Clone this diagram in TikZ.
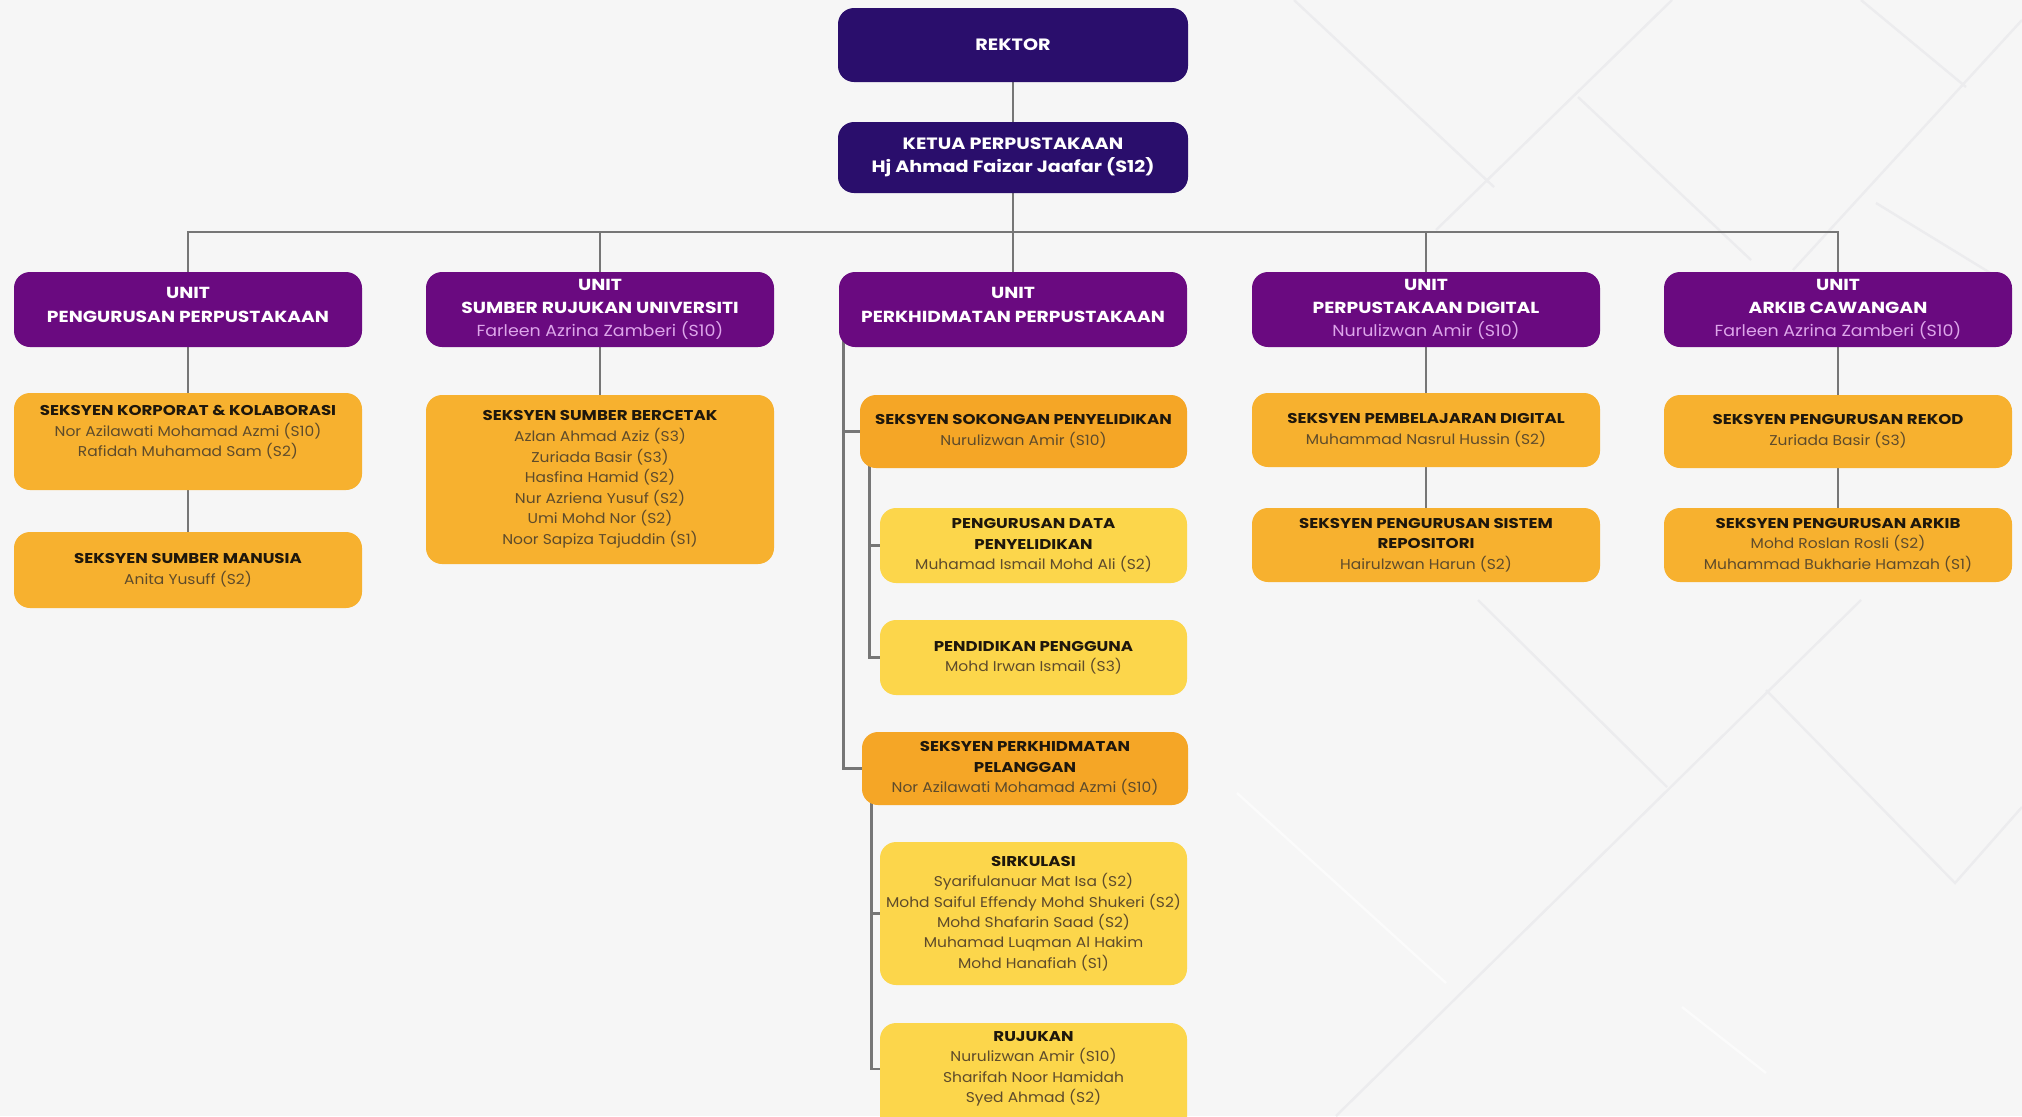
\documentclass[tikz,border=0pt]{standalone}
\usepackage{fontspec}
\setmainfont{Poppins}[FakeStretch=1.09, BoldFeatures={FakeStretch=1.17}]
\usetikzlibrary{calc}
\definecolor{bgc}{HTML}{F6F6F6}
\definecolor{bglinec}{HTML}{ECECEE}
\definecolor{navyc}{HTML}{2A0E6C}
\definecolor{unitc}{HTML}{6A0A80}
\definecolor{unitnamec}{HTML}{DDA6EA}
\definecolor{secc}{HTML}{F7B12F}
\definecolor{secdarkc}{HTML}{F5A626}
\definecolor{subc}{HTML}{FCD64B}
\definecolor{titlec}{HTML}{1E170C}
\definecolor{namec}{HTML}{5E4B2B}
\definecolor{linkc}{HTML}{767676}
\pgfdeclarelayer{bglayer}
\pgfdeclarelayer{linelayer}
\pgfsetlayers{bglayer,linelayer,main}
\newcommand\unitperson[1]{{\mdseries\color{unitnamec}#1}}
\newcommand\persona[1]{{\color{namec}#1}}
\tikzset{
  basebox/.style={rounded corners=8pt, align=center, inner sep=0pt},
  topbox/.style={basebox, fill=navyc, text=white, minimum width=175pt,
    font=\bfseries\fontsize{8.2}{11.8}\selectfont},
  unitbox/.style={basebox, fill=unitc, text=white, minimum width=174pt,
    minimum height=37.5pt, font=\bfseries\fontsize{8}{11.6}\selectfont},
  secbox/.style={basebox, fill=secc, text=titlec, minimum width=174pt,
    font=\fontsize{7.1}{10.3}\selectfont},
  secdark/.style={secbox, fill=secdarkc},
  subbox/.style={basebox, fill=subc, text=titlec, minimum width=153.5pt,
    font=\fontsize{7.1}{10.2}\selectfont},
  link/.style={draw=linkc, line width=1.3pt},
  bgline/.style={draw=bglinec, line width=1.2pt}
}
\begin{document}
\begin{tikzpicture}[x=0.5pt, y=-0.5pt]
\useasboundingbox (0,0) rectangle (2022,1116);
\begin{pgfonlayer}{bglayer}
  \fill[bgc] (0,0) rectangle (2022,1116);
  \draw[bgline] (1294,0) -- (1494,187);
  \draw[bgline] (1672,0) -- (1436,230);
  \draw[bgline] (1578,97) -- (1751,260);
  \draw[bgline] (1861,0) -- (1966,87);
  \draw[bgline] (2022,20) -- (1793,270);
  \draw[bgline] (1876,203) -- (2010,285);
  \draw[bgline] (1478,600) -- (1667,787);
  \draw[bgline] (1861,600) -- (1336,1116);
  \draw[bgline] (1766,690) -- (1955,883) -- (2022,807);
  \draw[bgline, draw=white!60!bgc] (1237,793) -- (1446,983);
  \draw[bgline, draw=white!60!bgc] (1682,1007) -- (1766,1073);
\end{pgfonlayer}

% top
\node[topbox, minimum height=37pt] (rektor) at (1013,45) {REKTOR};
\node[topbox, minimum height=35.5pt] (ketua) at (1013,157.5)
  {KETUA PERPUSTAKAAN\\Hj Ahmad Faizar Jaafar (S12)};

% units
\node[unitbox] (u1) at (188,309.5) {UNIT\\PENGURUSAN PERPUSTAKAAN\\[-7pt]~};
\node[unitbox] (u2) at (600,309.5) {UNIT\\SUMBER RUJUKAN UNIVERSITI\\\unitperson{Farleen Azrina Zamberi (S10)}};
\node[unitbox] (u3) at (1013,309.5) {UNIT\\PERKHIDMATAN PERPUSTAKAAN\\[-7pt]~};
\node[unitbox] (u4) at (1426,309.5) {UNIT\\PERPUSTAKAAN DIGITAL\\\unitperson{Nurulizwan Amir (S10)}};
\node[unitbox] (u5) at (1838,309.5) {UNIT\\ARKIB CAWANGAN\\\unitperson{Farleen Azrina Zamberi (S10)}};

% unit 1
\node[secbox, minimum height=48.5pt] (korporat) at (188,441.5)
  {\textbf{SEKSYEN KORPORAT \& KOLABORASI}\\\persona{Nor Azilawati Mohamad Azmi (S10)}\\\persona{Rafidah Muhamad Sam (S2)}\\~};
\node[secbox, minimum height=38pt] (manusia) at (188,570)
  {\textbf{SEKSYEN SUMBER MANUSIA}\\\persona{Anita Yusuff (S2)}};

% unit 2
\node[secbox, minimum height=84.5pt] (bercetak) at (600,479.5)
  {\textbf{SEKSYEN SUMBER BERCETAK}\\\persona{Azlan Ahmad Aziz (S3)}\\\persona{Zuriada Basir (S3)}\\\persona{Hasfina Hamid (S2)}\\\persona{Nur Azriena Yusuf (S2)}\\\persona{Umi Mohd Nor (S2)}\\\persona{Noor Sapiza Tajuddin (S1)}};

% unit 3
\node[secdark, minimum width=163.5pt, minimum height=36.5pt] (sokongan) at (1023.5,431.5)
  {\textbf{SEKSYEN SOKONGAN PENYELIDIKAN}\\\persona{Nurulizwan Amir (S10)}};
\node[subbox, minimum height=37.5pt] (data) at (1033.5,545.5)
  {\textbf{PENGURUSAN DATA}\\\textbf{PENYELIDIKAN}\\\persona{Muhamad Ismail Mohd Ali (S2)}};
\node[subbox, minimum height=37.5pt] (pendidikan) at (1033.5,657.5)
  {\textbf{PENDIDIKAN PENGGUNA}\\\persona{Mohd Irwan Ismail (S3)}};
\node[secdark, minimum width=163pt, minimum height=36.5pt] (pelanggan) at (1025,768.5)
  {\textbf{SEKSYEN PERKHIDMATAN}\\\textbf{PELANGGAN}\\\persona{Nor Azilawati Mohamad Azmi (S10)}};
\node[subbox, minimum height=71.5pt] (sirkulasi) at (1033.5,913.5)
  {\textbf{SIRKULASI}\\\persona{Syarifulanuar Mat Isa (S2)}\\\persona{Mohd Saiful Effendy Mohd Shukeri (S2)}\\\persona{Mohd Shafarin Saad (S2)}\\\persona{Muhamad Luqman Al Hakim}\\\persona{Mohd Hanafiah (S1)}};
\node[subbox, minimum height=60pt] (rujukan) at (1033.5,1083) {};
\node[align=center, inner sep=0pt, text=titlec, font=\fontsize{7.1}{10.2}\selectfont] (rujukantext) at (1033.5,1069)
  {\textbf{RUJUKAN}\\\persona{Nurulizwan Amir (S10)}\\\persona{Sharifah Noor Hamidah}\\\persona{Syed Ahmad (S2)}};

% unit 4
\node[secbox, minimum height=37pt] (pembelajaran) at (1426,430)
  {\textbf{SEKSYEN PEMBELAJARAN DIGITAL}\\\persona{Muhammad Nasrul Hussin (S2)}};
\node[secbox, minimum height=37pt] (repositori) at (1426,545)
  {\textbf{SEKSYEN PENGURUSAN SISTEM}\\\textbf{REPOSITORI}\\\persona{Hairulzwan Harun (S2)}};

% unit 5
\node[secbox, minimum height=36.5pt] (rekod) at (1838,431.5)
  {\textbf{SEKSYEN PENGURUSAN REKOD}\\\persona{Zuriada Basir (S3)}};
\node[secbox, minimum height=37pt] (arkib) at (1838,545)
  {\textbf{SEKSYEN PENGURUSAN ARKIB}\\\persona{Mohd Roslan Rosli (S2)}\\\persona{Muhammad Bukharie Hamzah (S1)}};

% connectors
\begin{pgfonlayer}{linelayer}
  \coordinate (bus) at (1013,232);
  \draw[link] (rektor.center) -- (ketua.center);
  \draw[link] (ketua.center) -- (u3.center);
  \draw[link] (u1.center) -- (u1.center |- bus) -- (u5.center |- bus) -- (u5.center);
  \draw[link] (u2.center) -- (u2.center |- bus);
  \draw[link] (u4.center) -- (u4.center |- bus);
  \draw[link] (u1.center) -- (korporat.center) -- (manusia.center);
  \draw[link] (u2.center) -- (bercetak.center);
  \draw[link] (u4.center) -- (pembelajaran.center) -- (repositori.center);
  \draw[link] (u5.center) -- (rekod.center) -- (arkib.center);
  \draw[link] ([xshift=2.5pt]u3.west) |- (sokongan.center);
  \draw[link] ([xshift=2.5pt]u3.west) |- (pelanggan.center);
  \draw[link] ([xshift=5pt]sokongan.west) |- (data.center);
  \draw[link] ([xshift=5pt]sokongan.west) |- (pendidikan.center);
  \draw[link] ([xshift=5pt]pelanggan.west) |- (sirkulasi.center);
  \draw[link] ([xshift=5pt]pelanggan.west) |- (rujukantext.center);
\end{pgfonlayer}
\end{tikzpicture}
\end{document}
